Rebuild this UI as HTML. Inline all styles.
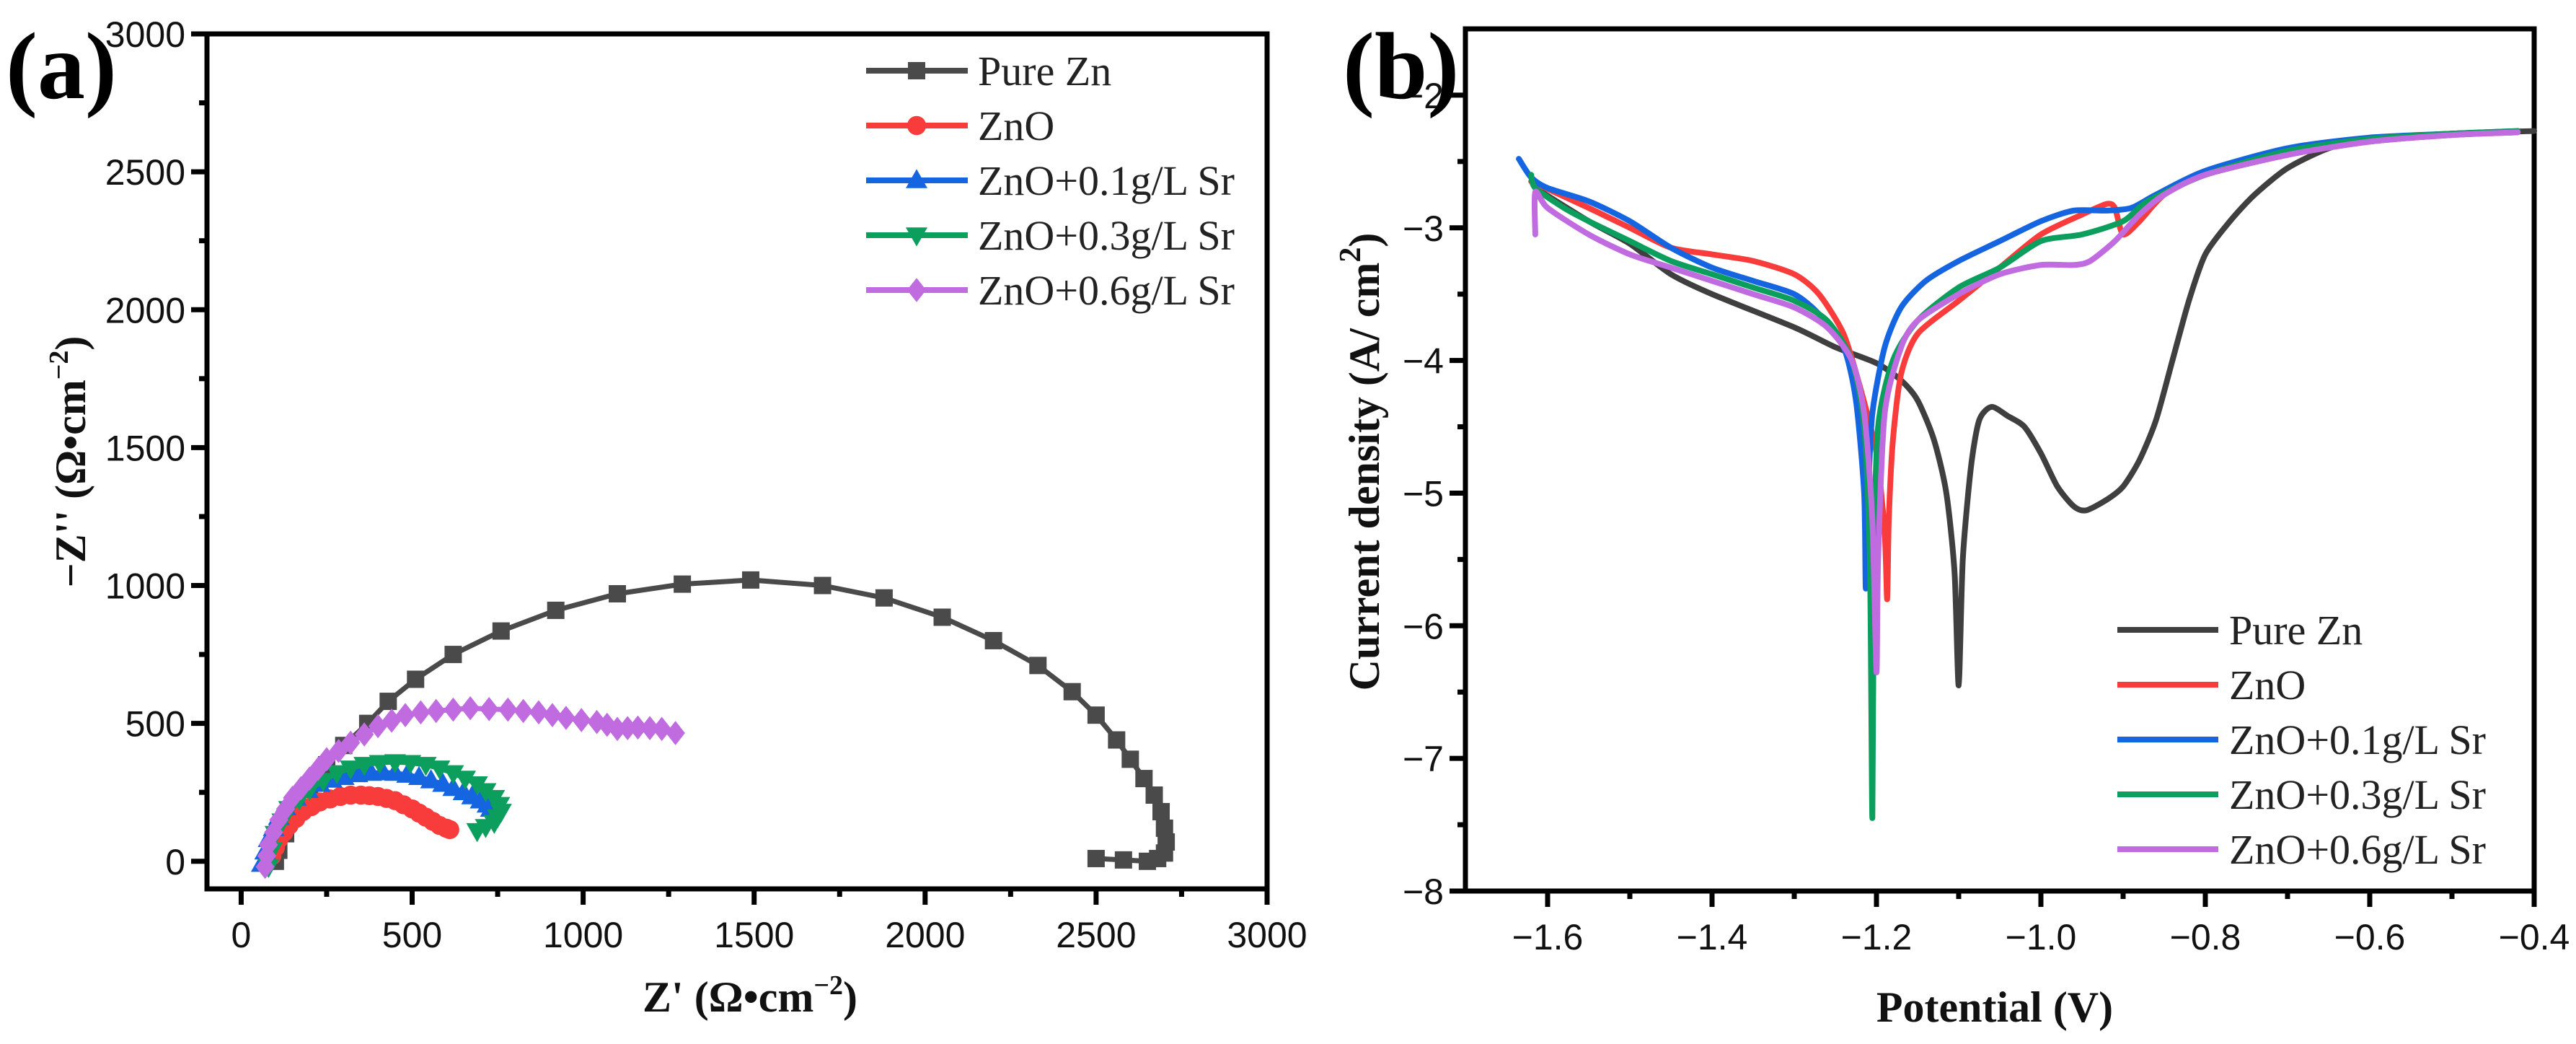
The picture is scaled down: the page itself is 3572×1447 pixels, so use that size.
<!DOCTYPE html>
<html><head><meta charset="utf-8"><style>
html,body{margin:0;padding:0;background:#fff;}
svg{display:block;}
.tick{font-family:"Liberation Sans",sans-serif;font-size:50px;fill:#111;}
.ttl{font-family:"Liberation Serif",serif;font-weight:bold;font-size:60px;fill:#111;}
.leg{font-family:"Liberation Serif",serif;font-size:58px;fill:#222;}
.pl{font-family:"Liberation Serif",serif;font-weight:bold;font-size:132px;fill:#000;}
</style></head><body>
<svg id="fig" width="3572" height="1447" viewBox="0 0 3572 1447" xmlns="http://www.w3.org/2000/svg">
<rect width="3572" height="1447" fill="#fff"/>
<g id="pa"></g>
<g id="pb"></g>
<text class="pl" x="8" y="136">(a)</text>
<text class="pl" x="1862" y="136">(b)</text>
</svg>
<script>
// ---------- Panel (a) data: Nyquist ----------
const nyqSeries = ["Pure Zn","ZnO","ZnO+0.1g/L Sr","ZnO+0.3g/L Sr","ZnO+0.6g/L Sr"];
const nyqColors = ["#4a4a4a","#f83b3b","#1565e0","#0b9e5c","#c06be0"];
const nyqMarkers = ["square","circle","triangle","invtriangle","diamond"];
const pureZnRe = [100,110,130,160,200,250,300,370,430,510,620,760,920,1100,1290,1490,1700,1880,2050,2200,2330,2430,2500,2560,2600,2640,2670,2690,2700,2705,2700,2680,2650,2580,2500];
const pureZnIm = [0,40,100,180,270,350,420,500,580,660,750,835,910,970,1005,1020,1000,955,885,800,710,615,530,440,370,300,240,180,120,70,30,10,0,5,10];
const znoRe = [90,100,110,125,140,160,180,205,230,260,290,320,350,375,400,425,450,475,500,520,540,560,580,600,610,600];
const znoIm = [20,50,80,105,130,155,180,198,215,226,235,240,240,238,235,228,220,205,190,175,160,145,130,120,115,120];
const s01Re = [60,70,80,95,110,130,160,195,230,265,300,340,380,415,450,485,520,555,590,620,650,675,700,720,730];
const s01Im = [-10,35,80,120,160,195,230,258,280,295,305,315,320,322,320,313,305,293,280,265,250,235,220,205,190];
const s03Re = [80,90,100,120,140,170,200,240,280,320,360,405,450,495,540,580,620,655,690,715,740,755,760,750,740,715,690];
const s03Im = [-20,40,100,145,190,225,260,292,320,337,350,357,360,357,350,337,320,300,280,255,230,205,180,160,140,125,110];
const s06Re = [70,75,80,95,110,130,150,175,200,225,250,285,320,360,400,440,480,525,570,620,670,725,780,825,870,910,950,995,1040,1070,1100,1130,1160,1195,1230,1270];
const s06Im = [-20,20,60,105,150,190,230,265,300,335,370,400,430,460,490,510,530,540,545,550,555,552,550,545,540,530,520,512,505,495,480,483,485,483,480,465];
const nyqX = [pureZnRe,znoRe,s01Re,s03Re,s06Re];
const nyqY = [pureZnIm,znoIm,s01Im,s03Im,s06Im];
const nyqTicks = [0,500,1000,1500,2000,2500,3000];

// ---------- Panel (b) data: Tafel ----------
const tafSeries = ["Pure Zn","ZnO","ZnO+0.1g/L Sr","ZnO+0.3g/L Sr","ZnO+0.6g/L Sr"];
const tafColors = ["#3f3f3f","#f83b3b","#1565e0","#0b9e5c","#c06be0"];
const pureZnV = [-1.615,-1.55,-1.5,-1.45,-1.4,-1.3,-1.25,-1.2,-1.17,-1.15,-1.13,-1.115,-1.105,-1.1,-1.095,-1.085,-1.075,-1.06,-1.04,-1.02,-1.0,-0.98,-0.96,-0.945,-0.92,-0.9,-0.88,-0.86,-0.84,-0.82,-0.8,-0.77,-0.74,-0.7,-0.65,-0.6,-0.5,-0.4];
const pureZnI = [-2.7,-2.95,-3.12,-3.35,-3.5,-3.75,-3.9,-4.02,-4.15,-4.3,-4.6,-5.0,-5.6,-6.45,-5.5,-4.8,-4.45,-4.35,-4.42,-4.5,-4.7,-4.95,-5.1,-5.13,-5.05,-4.95,-4.75,-4.45,-4.0,-3.55,-3.2,-2.95,-2.75,-2.55,-2.4,-2.33,-2.29,-2.27];
const znoV = [-1.62,-1.55,-1.5,-1.45,-1.4,-1.35,-1.3,-1.27,-1.24,-1.22,-1.2,-1.19,-1.187,-1.185,-1.18,-1.17,-1.15,-1.1,-1.05,-1.0,-0.95,-0.92,-0.91,-0.9,-0.88,-0.85,-0.8,-0.7,-0.6,-0.5,-0.42];
const znoI = [-2.65,-2.85,-3.0,-3.15,-3.2,-3.25,-3.35,-3.5,-3.8,-4.2,-4.7,-5.3,-5.8,-5.2,-4.6,-4.1,-3.8,-3.55,-3.3,-3.05,-2.9,-2.82,-2.85,-3.05,-2.95,-2.75,-2.6,-2.45,-2.35,-2.3,-2.28];
const s01V = [-1.635,-1.62,-1.6,-1.55,-1.5,-1.45,-1.4,-1.35,-1.3,-1.27,-1.24,-1.225,-1.215,-1.213,-1.21,-1.205,-1.19,-1.17,-1.14,-1.1,-1.05,-1.0,-0.96,-0.92,-0.89,-0.86,-0.8,-0.7,-0.6,-0.5,-0.42];
const s01I = [-2.48,-2.62,-2.7,-2.8,-2.95,-3.15,-3.3,-3.4,-3.5,-3.65,-3.9,-4.3,-5.0,-5.72,-5.0,-4.4,-3.9,-3.6,-3.4,-3.25,-3.1,-2.95,-2.87,-2.87,-2.85,-2.75,-2.57,-2.4,-2.32,-2.29,-2.27];
const s03V = [-1.62,-1.615,-1.58,-1.55,-1.5,-1.45,-1.4,-1.35,-1.3,-1.26,-1.23,-1.215,-1.208,-1.205,-1.203,-1.198,-1.18,-1.15,-1.1,-1.05,-1.0,-0.95,-0.9,-0.87,-0.8,-0.7,-0.6,-0.5,-0.42];
const s03I = [-2.6,-2.7,-2.85,-2.95,-3.1,-3.25,-3.35,-3.45,-3.55,-3.7,-4.0,-4.5,-5.5,-7.45,-5.5,-4.5,-4.0,-3.7,-3.45,-3.3,-3.1,-3.05,-2.95,-2.8,-2.6,-2.42,-2.33,-2.29,-2.27];
const s06V = [-1.615,-1.615,-1.6,-1.55,-1.5,-1.45,-1.4,-1.35,-1.3,-1.26,-1.23,-1.215,-1.205,-1.2,-1.198,-1.19,-1.17,-1.15,-1.1,-1.05,-1.0,-0.96,-0.94,-0.91,-0.88,-0.85,-0.8,-0.7,-0.6,-0.5,-0.42];
const s06I = [-3.05,-2.73,-2.85,-3.05,-3.2,-3.3,-3.4,-3.5,-3.6,-3.75,-4.0,-4.4,-5.2,-6.35,-5.5,-4.4,-3.9,-3.7,-3.5,-3.35,-3.28,-3.28,-3.25,-3.1,-2.9,-2.75,-2.6,-2.45,-2.35,-2.3,-2.28];
const tafX = [pureZnV,znoV,s01V,s03V,s06V];
const tafY = [pureZnI,znoI,s01I,s03I,s06I];
const tafXTicks = [-1.6,-1.4,-1.2,-1.0,-0.8,-0.6,-0.4];
const tafXLabels = ["\u22121.6","\u22121.4","\u22121.2","\u22121.0","\u22120.8","\u22120.6","\u22120.4"];
const tafYTicks = [-2,-3,-4,-5,-6,-7,-8];
const tafYLabels = ["\u22122","\u22123","\u22124","\u22125","\u22126","\u22127","\u22128"];

const NS = "http://www.w3.org/2000/svg";
function mk(parent, tag, attrs){const e=document.createElementNS(NS,tag);for(const k in attrs)e.setAttribute(k,attrs[k]);parent.appendChild(e);return e;}

// smooth path through points (Catmull-Rom, mild tension)
function smoothPath(P){
  let d = 'M'+P[0][0]+','+P[0][1];
  for(let i=0;i<P.length-1;i++){
    const p0=P[Math.max(0,i-1)],p1=P[i],p2=P[i+1],p3=P[Math.min(P.length-1,i+2)];
    const t=1/8;
    const c1=[p1[0]+(p2[0]-p0[0])*t,p1[1]+(p2[1]-p0[1])*t];
    const c2=[p2[0]-(p3[0]-p1[0])*t,p2[1]-(p3[1]-p1[1])*t];
    d+=' C'+c1[0]+','+c1[1]+' '+c2[0]+','+c2[1]+' '+p2[0]+','+p2[1];
  }
  return d;
}

// ---------- Panel a axes ----------
const A = {l:287,r:1757,t:47,b:1232,x0:-100,x1:3000,y0:-100,y1:3000};
const ax = v => A.l + (v-A.x0)/(A.x1-A.x0)*(A.r-A.l);
const ay = v => A.b - (v-A.y0)/(A.y1-A.y0)*(A.b-A.t);
const pa = document.getElementById('pa');

function frame(g,F){
  const f = mk(g,'rect',{x:F.l,y:F.t,width:F.r-F.l,height:F.b-F.t,fill:'none',stroke:'#000','stroke-width':7});
  
  
}
frame(pa,A);
for(let v=0; v<=3000; v+=250){
  const major = v%500===0;
  const t1 = mk(pa,'line',{x1:ax(v),x2:ax(v),y1:A.b,y2:A.b+(major?22:11),stroke:'#000','stroke-width':7});
  
  
  const t2 = mk(pa,'line',{x1:A.l,x2:A.l-(major?22:11),y1:ay(v),y2:ay(v),stroke:'#000','stroke-width':7});
  
  
}
nyqTicks.forEach(v=>{
  const tx = mk(pa,'text',{x:ax(v),y:1313,'text-anchor':'middle',class:'tick'});
  tx.textContent = v;
  
  
  const ty = mk(pa,'text',{x:A.l-30,y:ay(v)+18,'text-anchor':'end',class:'tick'});
  ty.textContent = v;
  
  
});
const xta = mk(pa,'text',{x:1040,y:1402,'text-anchor':'middle',class:'ttl'});
xta.innerHTML = "Z' (\u03A9\u2022cm<tspan dy='-24' font-size='38'>\u22122</tspan><tspan dy='24'>)</tspan>";


const yta = mk(pa,'text',{x:0,y:0,'text-anchor':'middle',class:'ttl',transform:'translate(118,640) rotate(-90)'});
yta.innerHTML = "\u2212Z'' (\u03A9\u2022cm<tspan dy='-24' font-size='38'>\u22122</tspan><tspan dy='24'>)</tspan>";



function marker(g,type,x,y,s,color){
  let e;
  if(type==='square') e = mk(g,'rect',{x:x-s,y:y-s,width:2*s,height:2*s,fill:color});
  else if(type==='circle') e = mk(g,'circle',{cx:x,cy:y,r:s*1.1,fill:color});
  else if(type==='triangle') e = mk(g,'polygon',{points:`${x},${y-s*1.3} ${x-s*1.25},${y+s*0.9} ${x+s*1.25},${y+s*0.9}`,fill:color});
  else if(type==='invtriangle') e = mk(g,'polygon',{points:`${x},${y+s*1.3} ${x-s*1.25},${y-s*0.9} ${x+s*1.25},${y-s*0.9}`,fill:color});
  else e = mk(g,'polygon',{points:`${x},${y-s*1.4} ${x+s*1.1},${y} ${x},${y+s*1.4} ${x-s*1.1},${y}`,fill:color});
  return e;
}
nyqX.forEach((xs,i)=>{
  const g = mk(pa,'g',{});
  
  
  const pts = xs.map((v,j)=>ax(v)+','+ay(nyqY[i][j])).join(' ');
  const pl = mk(g,'polyline',{points:pts,fill:'none',stroke:nyqColors[i],'stroke-width':7,'stroke-linejoin':'round'});
  
  
  xs.forEach((v,j)=>{
    const m = marker(g,nyqMarkers[i],ax(v),ay(nyqY[i][j]),12,nyqColors[i]);
    
    
  });
});
// legend a
nyqSeries.forEach((n,i)=>{
  const y = 98 + i*76;
  const g = mk(pa,'g',{});
  
  
  mk(g,'line',{x1:1201,x2:1342,y1:y,y2:y,stroke:nyqColors[i],'stroke-width':8});
  marker(g,nyqMarkers[i],1271,y,12,nyqColors[i]);
  const t = mk(g,'text',{x:1356,y:y+20,class:'leg'});
  t.textContent = n;
});

// ---------- Panel b axes ----------
const B = {l:2032,r:3514,t:40,b:1235,x0:-1.7,x1:-0.4,y0:-8,y1:-1.5};
const bx = v => B.l + (v-B.x0)/(B.x1-B.x0)*(B.r-B.l);
const by = v => B.b - (v-B.y0)/(B.y1-B.y0)*(B.b-B.t);
const pb = document.getElementById('pb');
frame(pb,B);
for(let k=0;k<=12;k++){
  const v = -1.6 + k*0.1;
  const major = k%2===0;
  const t = mk(pb,'line',{x1:bx(v),x2:bx(v),y1:B.b,y2:B.b+(major?22:11),stroke:'#000','stroke-width':7});
  
  
}
for(let k=0;k<=12;k++){
  const v = -8 + k*0.5;
  const major = k%2===0;
  const t = mk(pb,'line',{x1:B.l,x2:B.l-(major?22:11),y1:by(v),y2:by(v),stroke:'#000','stroke-width':7});
  
  
}
tafXTicks.forEach((v,i)=>{
  const t = mk(pb,'text',{x:bx(v),y:1316,'text-anchor':'middle',class:'tick'});
  t.textContent = tafXLabels[i];
  
  
});
tafYTicks.forEach((v,i)=>{
  const t = mk(pb,'text',{x:B.l-30,y:by(v)+18,'text-anchor':'end',class:'tick'});
  t.textContent = tafYLabels[i];
  
  
});
const xtb = mk(pb,'text',{x:2766,y:1416,'text-anchor':'middle',class:'ttl'});
xtb.textContent = "Potential (V)";


const ytb = mk(pb,'text',{x:0,y:0,'text-anchor':'middle',class:'ttl',transform:'translate(1912,640) rotate(-90)'});
ytb.innerHTML = "Current density (A/ cm<tspan dy='-26' font-size='42'>2</tspan><tspan dy='26'>)</tspan>";



tafX.forEach((xs,i)=>{
  const P = xs.map((v,j)=>[bx(v),by(tafY[i][j])]);
  const pl = mk(pb,'path',{d:smoothPath(P),fill:'none',stroke:tafColors[i],'stroke-width':8,'stroke-linejoin':'round','stroke-linecap':'round'});
  
  
});
tafSeries.forEach((n,i)=>{
  const y = 873 + i*76;
  const g = mk(pb,'g',{});
  
  
  mk(g,'line',{x1:2936,x2:3076,y1:y,y2:y,stroke:tafColors[i],'stroke-width':8});
  const t = mk(g,'text',{x:3091,y:y+20,class:'leg'});
  t.textContent = n;
});
</script>
</body></html>
